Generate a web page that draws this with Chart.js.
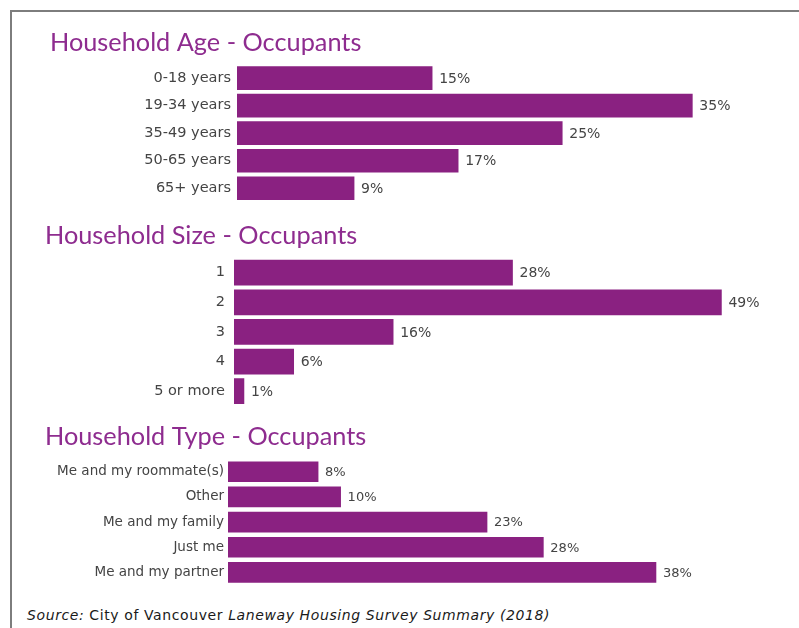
<!DOCTYPE html>
<html>
<head>
<meta charset="utf-8">
<script src="https://cdn.jsdelivr.net/npm/chart.js@4.4.1/dist/chart.umd.min.js"></script>
<style>
  html, body { margin: 0; padding: 0; background: #fff; }
  body { width: 799px; height: 628px; position: relative; overflow: hidden; }
  .frame { position: absolute; left: 10px; top: 10px; right: 0; bottom: 0;
           border-top: 2px solid #7d7d7d; border-left: 2px solid #7d7d7d; }
  .box { position: absolute; left: 0; width: 799px; }
  .source { position: absolute; left: 27px; top: 607px; font-family: "DejaVu Sans", sans-serif;
            font-size: 14px; letter-spacing: 0.6px; color: #1a1a1a; white-space: nowrap; }
</style>
</head>
<body>
<div class="frame"></div>
<div class="box" style="top:28px;height:174px"><canvas id="chart_age"></canvas></div>
<div class="box" style="top:221px;height:185px"><canvas id="chart_size"></canvas></div>
<div class="box" style="top:422px;height:163px"><canvas id="chart_type"></canvas></div>
<div class="source"><i>Source:</i> City of Vancouver <i>Laneway Housing Survey Summary (2018)</i></div>
<script>
var ageLabels = ['0-18 years', '19-34 years', '35-49 years', '50-65 years', '65+ years'];
var ageValues = [15, 35, 25, 17, 9];

var sizeLabels = ['1', '2', '3', '4', '5 or more'];
var sizeValues = [28, 49, 16, 6, 1];

var typeLabels = ['Me and my roommate(s)', 'Other', 'Me and my family', 'Just me', 'Me and my partner'];
var typeValues = [8, 10, 23, 28, 38];

var barColor = '#8A2181';
var titleColor = '#8E2C8F';
var textColor = '#444444';

// writes "NN%" just right of each bar
var valueLabels = {
    id: 'valueLabels',
    afterDatasetsDraw: (chart, args, options) => {
        const ctx = chart.ctx;
        ctx.save();
        ctx.font = options.size + 'px "DejaVu Sans", sans-serif';
        ctx.fillStyle = textColor;
        ctx.textAlign = 'left';
        ctx.textBaseline = 'middle';
        chart.getDatasetMeta(0).data.forEach((bar, i) => {
            ctx.fillText(chart.data.datasets[0].data[i] + '%', bar.x + 7, bar.y + 1);
        });
        ctx.restore();
    }
};

function makeChart(id, title, labels, values, o) {
    return new Chart(document.getElementById(id), {
        type: 'bar',
        data: {
            labels: labels,
            datasets: [{
                data: values,
                backgroundColor: barColor,
                borderWidth: 0,
                barThickness: o.bar
            }]
        },
        options: {
            indexAxis: 'y',
            animation: false,
            responsive: true,
            maintainAspectRatio: false,
            layout: { padding: { left: o.left, right: 0, top: 0, bottom: 0 } },
            plugins: {
                legend: { display: false },
                tooltip: { enabled: false },
                title: {
                    display: true,
                    text: title,
                    align: 'start',
                    color: titleColor,
                    font: { family: 'Lato', size: 25.3, weight: 'normal' },
                    padding: { top: 0, bottom: o.titleGap }
                },
                valueLabels: { size: o.valueSize }
            },
            scales: {
                x: {
                    display: false,
                    min: 0,
                    max: o.max
                },
                y: {
                    grid: { display: false, drawTicks: false },
                    border: { display: false },
                    ticks: {
                        color: textColor,
                        padding: o.gap,
                        font: { family: 'DejaVu Sans', size: o.tickSize }
                    },
                    afterFit: (scale) => {
                        scale.width = o.axis;
                        scale.paddingTop = 0;
                        scale.paddingBottom = 0;
                    }
                }
            }
        },
        plugins: [valueLabels]
    });
}

makeChart('chart_age', 'Household Age - Occupants', ageLabels, ageValues,
    { left: 50, axis: 187, max: 43.2, bar: 23, gap: 6, tickSize: 14.5, valueSize: 14, titleGap: 6 });
makeChart('chart_size', 'Household Size - Occupants', sizeLabels, sizeValues,
    { left: 45, axis: 189, max: 56.8, bar: 25, gap: 9, tickSize: 14.5, valueSize: 14, titleGap: 6.5 });
makeChart('chart_type', 'Household Type - Occupants', typeLabels, typeValues,
    { left: 45, axis: 183, max: 50.7, bar: 20, gap: 4, tickSize: 13.5, valueSize: 13, titleGap: 6.8 });
</script>
</body>
</html>
